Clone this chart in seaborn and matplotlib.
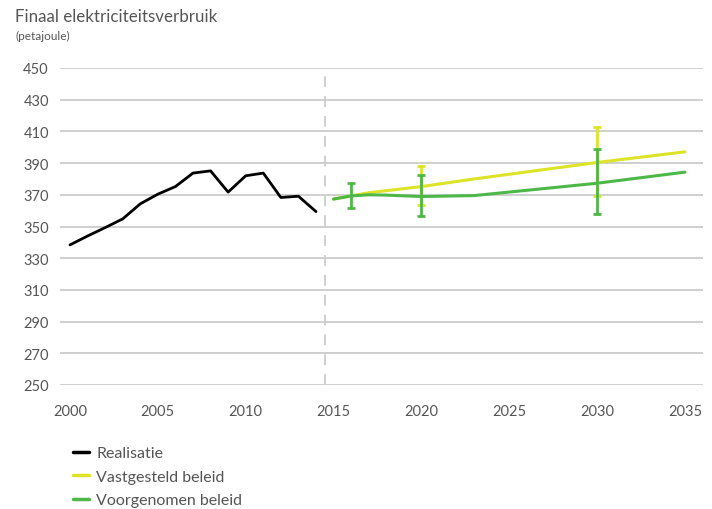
import matplotlib
matplotlib.use("Agg")
import matplotlib.pyplot as plt
import seaborn as sns
import pandas as pd

# realisatie
real_years = [2000, 2001, 2002, 2003, 2004, 2005, 2006, 2007, 2008, 2009, 2010, 2011, 2012, 2013, 2014]
real_values = [338.4, 344.0, 349.3, 354.8, 364.3, 370.4, 375.2, 383.7, 385.1, 371.7, 382.0, 383.7, 368.3, 369.1, 359.4]

# vastgesteld beleid
vast_years = [2015, 2016, 2017, 2020, 2023, 2030, 2035]
vast_values = [367.3, 369.3, 371.3, 375.2, 380.0, 390.4, 397.1]

# voorgenomen beleid
voor_years = [2015, 2016, 2017, 2018, 2020, 2023, 2030, 2035]
voor_values = [367.3, 369.3, 370.0, 369.8, 368.9, 369.5, 377.3, 384.3]

# onzekerheidsbanden
vast_err_years = [2020, 2030]
vast_err_mid = [375.2, 390.4]
vast_err_low = [363.6, 369.1]
vast_err_high = [388.3, 413.0]

voor_err_years = [2016, 2020, 2030]
voor_err_mid = [369.3, 368.9, 377.3]
voor_err_low = [361.5, 356.9, 357.8]
voor_err_high = [377.7, 382.8, 398.8]

y_ticks = [250, 270, 290, 310, 330, 350, 370, 390, 410, 430, 450]
x_ticks = [2000, 2005, 2010, 2015, 2020, 2025, 2030, 2035]

BLACK = "#000000"
YELLOW = "#dde327"
GREEN = "#4db848"
TEXT = "#555555"
GRID = "#cccccc"

sns.set_style("white")
plt.rcParams["font.family"] = ["Lato", "DejaVu Sans"]

fig = plt.figure(figsize=(7.12, 5.10), dpi=100)
ax = fig.add_axes([60 / 712, 1 - 386 / 510, (703 - 60) / 712, (386 - 69) / 510])

df_real = pd.DataFrame({"jaar": real_years, "waarde": real_values})
df_vast = pd.DataFrame({"jaar": vast_years, "waarde": vast_values})
df_voor = pd.DataFrame({"jaar": voor_years, "waarde": voor_values})

for t in y_ticks:
    ax.axhline(t, color=GRID, lw=1.3, zorder=0)
ax.axvline(2014.5, color=GRID, lw=1.3, ls=(0, (6, 5)), zorder=0)

sns.lineplot(data=df_real, x="jaar", y="waarde", color=BLACK, lw=2, ax=ax, label="Realisatie")
sns.lineplot(data=df_vast, x="jaar", y="waarde", color=YELLOW, lw=2.2, ax=ax, label="Vastgesteld beleid")

# gele foutbalken onder de groene
ax.errorbar(vast_err_years, vast_err_mid,
            yerr=[[m - lo for m, lo in zip(vast_err_mid, vast_err_low)],
                  [hi - m for m, hi in zip(vast_err_mid, vast_err_high)]],
            fmt="none", ecolor=YELLOW, elinewidth=2, capsize=3, capthick=2, zorder=3)

sns.lineplot(data=df_voor, x="jaar", y="waarde", color=GREEN, lw=2.2, ax=ax, label="Voorgenomen beleid", zorder=4)
ax.errorbar(voor_err_years, voor_err_mid,
            yerr=[[m - lo for m, lo in zip(voor_err_mid, voor_err_low)],
                  [hi - m for m, hi in zip(voor_err_mid, voor_err_high)]],
            fmt="none", ecolor=GREEN, elinewidth=2, capsize=3, capthick=2, zorder=5)

ax.set_xlim(2000 - 10 / 17.57, 2035 + 18 / 17.57)
ax.set_ylim(250, 450)
ax.set_xticks(x_ticks)
ax.set_yticks(y_ticks)
ax.set_xticklabels([str(x) for x in x_ticks])
ax.tick_params(axis="both", length=0, labelsize=10.5, labelcolor=TEXT)
ax.tick_params(axis="y", pad=8)
ax.tick_params(axis="x", pad=14)
ax.set_xlabel("")
ax.set_ylabel("")
for s in ax.spines.values():
    s.set_visible(False)

fig.text(15 / 712, 1 - 17 / 510, "Finaal elektriciteitsverbruik", fontsize=12.2, color=TEXT, va="center")
fig.text(15 / 712, 1 - 36 / 510, "(petajoule)", fontsize=8.5, color=TEXT, va="center")

leg = ax.legend(loc="upper left", bbox_to_anchor=(62 / 712, 1 - 436 / 510),
                bbox_transform=fig.transFigure, frameon=False, fontsize=11.5,
                handlelength=1.0, handletextpad=0.45, labelspacing=0.58, labelcolor=TEXT,
                borderpad=0.2)
for h in leg.get_lines():
    h.set_linewidth(2.5)

fig.savefig("out.png", dpi=100)
